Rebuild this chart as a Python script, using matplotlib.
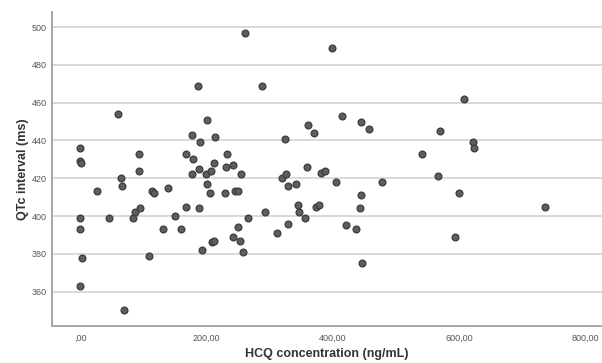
import matplotlib.pyplot as plt
from matplotlib.ticker import FuncFormatter

plt.rcParams['font.family'] = ['Liberation Sans', 'DejaVu Sans']

# HCQ concentration (ng/mL)
hcq = [0, 0, 1, 0, 0, 2, 0, 27, 45, 60, 65, 66, 69, 84, 87, 92, 92, 95, 109, 114,
       116, 131, 138, 149, 159, 167, 167, 176, 176, 178, 186, 188, 188, 190, 192,
       199, 201, 201, 205, 206, 208, 212, 212, 213, 229, 230, 232, 241, 241, 245,
       249, 250, 253, 254, 258, 261, 265, 287, 292, 311, 320, 324, 326, 328, 328,
       341, 344, 346, 356, 359, 361, 370, 373, 378, 381, 387, 398, 405, 414, 420,
       437, 442, 444, 445, 446, 457, 477, 541, 567, 570, 593, 600, 608, 621, 624, 735]

# QTc interval (ms)
qtc = [436, 429, 428, 399, 393, 378, 363, 413, 399, 454, 420, 416, 350, 399, 402,
       433, 424, 404, 379, 413, 412, 393, 415, 400, 393, 433, 405, 422, 443, 430,
       469, 404, 425, 439, 382, 422, 451, 417, 412, 424, 386, 428, 387, 442, 412,
       426, 433, 427, 389, 413, 394, 413, 387, 422, 381, 497, 399, 469, 402, 391,
       420, 441, 422, 416, 396, 417, 406, 402, 399, 426, 448, 444, 405, 406, 423,
       424, 489, 418, 453, 395, 393, 404, 450, 411, 375, 446, 418, 433, 421, 445,
       389, 412, 462, 439, 436, 405]

fig = plt.figure(figsize=(6.02, 3.63), dpi=100)
ax = fig.add_axes([0.0864, 0.103, 0.9136, 0.864])

ax.scatter(hcq, qtc, s=24, facecolor='#5e5e5e', edgecolor='#3c3c3c',
           linewidths=0.9, zorder=3)

ax.set_xlim(-45, 826)
ax.set_ylim(342, 508)
ax.set_xticks([0, 200, 400, 600, 800])
ax.set_yticks([360, 380, 400, 420, 440, 460, 480, 500])


def comma_fmt(v, pos):
    s = f"{v:.2f}".replace('.', ',')
    if s.startswith('0,'):
        s = s[1:]
    return s


ax.xaxis.set_major_formatter(FuncFormatter(comma_fmt))
ax.tick_params(length=0, labelsize=6.5, labelcolor='#555555')
ax.tick_params(axis='x', pad=6)
ax.tick_params(axis='y', pad=4)

ax.grid(axis='y', color='#d9d9d9', linewidth=1.4)
ax.set_axisbelow(True)
for side in ['top', 'right']:
    ax.spines[side].set_visible(False)
for side in ['left', 'bottom']:
    ax.spines[side].set_color('#a6a6a6')
    ax.spines[side].set_linewidth(1.4)

ax.set_xlabel('HCQ concentration (ng/mL)', fontsize=9, fontweight='bold',
              color='#333333', labelpad=4)
ax.set_ylabel('QTc interval (ms)', fontsize=9, fontweight='bold',
              color='#333333', labelpad=2)

fig.savefig('out.png', dpi=100)
